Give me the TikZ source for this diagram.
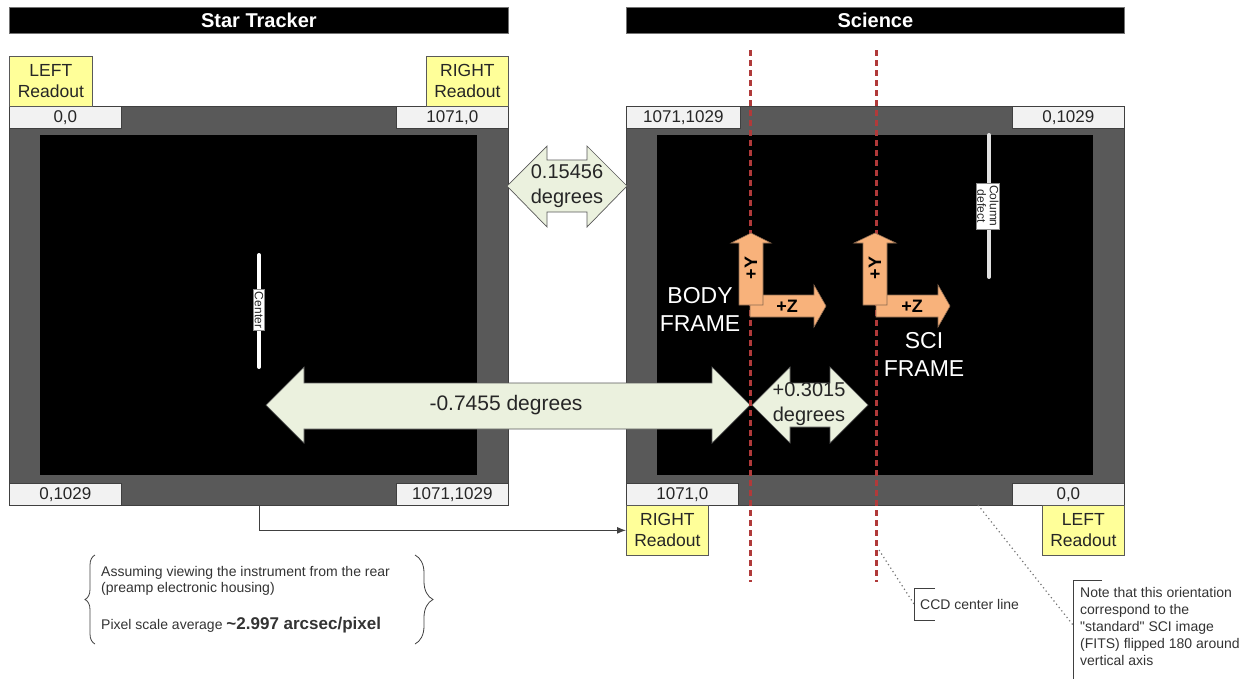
\documentclass[tikz,border=0pt]{standalone}
\usepackage{fontspec}
\setmainfont{Liberation Sans}[Ligatures=TeXOff]
\usetikzlibrary{decorations.pathreplacing,arrows.meta}
\definecolor{frmgray}{HTML}{595959}
\definecolor{edgegray}{HTML}{404040}
\definecolor{lblgray}{HTML}{F2F2F2}
\definecolor{readyellow}{HTML}{FFFF99}
\definecolor{arrgreen}{HTML}{EBF1DE}
\definecolor{orangefill}{HTML}{F8B27B}
\definecolor{orangeedge}{HTML}{8C6A50}
\definecolor{reddash}{HTML}{B03A3A}
\definecolor{txtgray}{HTML}{262626}
\definecolor{notegray}{HTML}{333333}
\begin{document}
\begin{tikzpicture}[x=1pt,y=-1pt,
  hdrbar/.style={fill=black,draw=black!55,line width=0.8pt,text=white,
    font=\bfseries\fontsize{20}{24}\selectfont,minimum height=26pt,inner sep=0pt,anchor=north west},
  framebox/.style={fill=frmgray,draw=edgegray,line width=0.8pt,inner sep=0pt,anchor=north west,
    minimum height=399pt},
  innerbox/.style={fill=black,inner sep=0pt,anchor=north west,minimum height=340pt,minimum width=437pt},
  coordbox/.style={fill=lblgray,draw=edgegray,line width=0.7pt,text=txtgray,
    font=\fontsize{17}{20}\selectfont,minimum height=22pt,inner sep=0pt,anchor=north west},
  readbox/.style={fill=readyellow,draw=frmgray,line width=0.7pt,text=txtgray,align=center,
    font=\fontsize{17.5}{21}\selectfont,minimum width=82pt,minimum height=50pt,inner sep=0pt,anchor=north west},
  bigarrow/.style={fill=arrgreen,draw=frmgray,line width=0.7pt},
  arrtext/.style={text=txtgray,align=center,inner sep=0pt},
  orarrow/.style={fill=orangefill,draw=orangeedge,line width=0.6pt},
  axlabel/.style={text=black,font=\bfseries\fontsize{18}{20}\selectfont,inner sep=0pt},
  frametext/.style={text=white,align=center,font=\fontsize{23}{28}\selectfont,inner sep=0pt},
  cline/.style={reddash,line width=3pt,dash pattern=on 6pt off 4pt},
  whitebar/.style={line width=4pt,line cap=round},
  tagbox/.style={fill=white,draw=black!45,line width=0.6pt,text=txtgray,
    font=\fontsize{12}{12.5}\selectfont,align=center,inner xsep=2.5pt,inner ysep=1pt},
  notetext/.style={text=notegray,font=\fontsize{14}{17}\selectfont,inner sep=0pt,align=left},
  callout/.style={black!55,line width=1.2pt,dash pattern=on 1.2pt off 3pt},
  bracketline/.style={draw=edgegray,line width=0.8pt},
  bracestyle/.style={draw=edgegray,line width=0.8pt,decorate}
]
\useasboundingbox (0,0) rectangle (1252,678);

% headers
\node[hdrbar,minimum width=499pt] (hst) at (9,7) {Star Tracker};
\node[hdrbar,minimum width=498pt] (hsc) at (626,7) {Science};

% frames
\node[framebox,minimum width=499pt] (ltf) at (9,106) {};
\node[framebox,minimum width=498pt] (scf) at (626,106) {};
\node[innerbox] (lti) at (40,135) {};
\node[innerbox,minimum width=436pt] (sci) at (657,135) {};

% coordinate labels
\node[coordbox,minimum width=112pt] (l00) at (9,106) {0,0};
\node[coordbox,minimum width=112pt] (l10) at (396,106) {1071,0};
\node[coordbox,minimum width=112pt] (l01) at (9,483) {0,1029};
\node[coordbox,minimum width=112pt] (l11) at (396,483) {1071,1029};
\node[coordbox,minimum width=114pt] (s11) at (626,106) {1071,1029};
\node[coordbox,minimum width=112pt] (s01) at (1012,106) {0,1029};
\node[coordbox,minimum width=112pt] (s10) at (626,483) {1071,0};
\node[coordbox,minimum width=112pt] (s00) at (1012,483) {0,0};

% readout boxes
\node[readbox,minimum width=83pt] (rtl) at (9,56) {LEFT\\Readout};
\node[readbox] (rtr) at (426,56) {RIGHT\\Readout};
\node[readbox] (rsr) at (626,505) {RIGHT\\Readout};
\node[readbox] (rsl) at (1042,505) {LEFT\\Readout};

% center bar
\coordinate (cbt) at (259,255);
\coordinate (cbb) at (259,367);
\draw[whitebar,white] (cbt) -- (cbb);
\node[tagbox,rotate=-90] (ctr) at (259,310) {Center};

% column defect
\coordinate (cdt) at (989,135);
\coordinate (cdb) at (989,277);
\draw[whitebar,black!12] (cdt) -- (cdb);
\node[tagbox,rotate=-90] (cold) at (988,206) {Column\\defect};

% connector
\coordinate (cbase) at (259,505);
\draw[edgegray,line width=1pt,-{Latex[length=9pt,width=7pt]}] (cbase) |- (rsr.west);

% big arrows
\draw[bigarrow] (266,405) -- (304,367) -- (304,383) -- (712,383) -- (712,367) -- (750,405)
  -- (712,443) -- (712,429) -- (304,429) -- (304,443) -- cycle;
\node[arrtext,font=\fontsize{21}{25}\selectfont] (a1) at (506,405) {-0.7455 degrees};
\draw[bigarrow] (752,405) -- (790,367) -- (790,383) -- (830,383) -- (830,367) -- (868,405)
  -- (830,443) -- (830,427) -- (790,427) -- (790,443) -- cycle;
\node[arrtext,font=\fontsize{20}{25}\selectfont] (a2) at (809,404) {+0.3015\\degrees};
\draw[bigarrow] (507,186) -- (547,146) -- (547,160) -- (587,160) -- (587,146) -- (627,186)
  -- (587,227) -- (587,212) -- (547,212) -- (547,227) -- cycle;
\node[arrtext,font=\fontsize{20}{25}\selectfont] (a3) at (567,186) {0.15456\\degrees};

% dashed center lines
\coordinate (d1t) at (750,50);
\coordinate (d1b) at (750,582);
\coordinate (d2t) at (876,50);
\coordinate (d2b) at (876,582);
\draw[cline] (d1t) -- (d1b);
\draw[cline] (d2t) -- (d2b);

% body frame axes
\draw[orarrow] (750,295) -- (814,295) -- (814,285) -- (826,306) -- (814,327) -- (814,317) -- (750,317) -- cycle;
\draw[orarrow] (739,305) -- (739,243) -- (731,243) -- (751,233) -- (771,243) -- (763,243) -- (763,305) -- cycle;
\node[axlabel,rotate=90] (by) at (751,268) {+Y};
\node[axlabel] (bz) at (787,306) {+Z};
% sci frame axes
\draw[orarrow] (876,295) -- (938,295) -- (938,285) -- (950,306) -- (938,327) -- (938,317) -- (876,317) -- cycle;
\draw[orarrow] (863,305) -- (863,243) -- (854,243) -- (875,233) -- (896,243) -- (887,243) -- (887,305) -- cycle;
\node[axlabel,rotate=90] (sy) at (875,268) {+Y};
\node[axlabel] (sz) at (912,306) {+Z};

\node[frametext] (bft) at (700,309) {BODY\\FRAME};
\node[frametext] (sft) at (924,354) {SCI\\FRAME};

% CCD center line callout
\coordinate (ccdp) at (879,550);
\coordinate (ccdb) at (914,604);
\draw[callout] (ccdp) -- (ccdb);
\draw[bracketline] (935,588) -- (914,588) -- (914,620) -- (935,620);
\node[notetext,anchor=west] (ccd) at (920,604) {CCD center line};

% orientation note callout
\coordinate (notep) at (978,505);
\coordinate (noteb) at (1073,625);
\draw[callout] (notep) -- (noteb);
\draw[bracketline] (1102,580) -- (1073,580) -- (1073,690);
\node[notetext,anchor=north west] (note) at (1080,587) {Note that this orientation\\correspond to the\\"standard" SCI image\\(FITS) flipped 180 around\\vertical axis};

% brace note
\coordinate (lbb) at (95,644);
\coordinate (lbt) at (95,555);
\coordinate (rbt) at (415,555);
\coordinate (rbb) at (415,644);
\draw[bracestyle,decoration={brace,amplitude=10pt}] (lbb) -- (lbt);
\draw[bracestyle,decoration={brace,amplitude=18pt}] (rbt) -- (rbb);
\node[notetext,anchor=west] (n1) at (101,573) {Assuming viewing the instrument from the rear};
\node[notetext,anchor=west] (n2) at (101,589) {(preamp electronic housing)};
\node[notetext,anchor=west] (n3) at (101,625) {Pixel scale average {\bfseries\fontsize{17}{20}\selectfont\textasciitilde2.997 arcsec/pixel}};
\end{tikzpicture}
\end{document}
